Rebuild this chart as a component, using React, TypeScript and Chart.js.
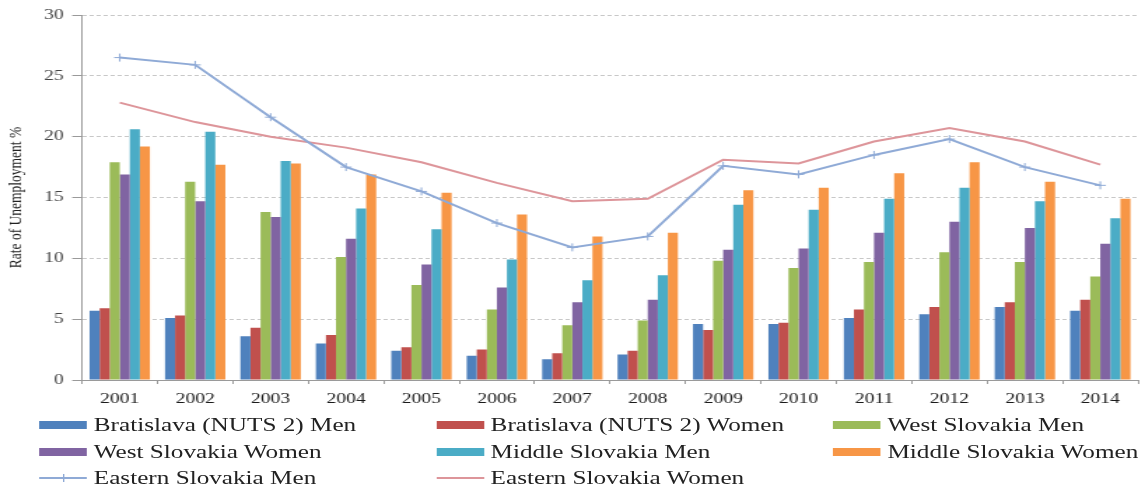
import React, { useEffect, useRef } from 'react';
import { Chart, registerables } from 'chart.js';

Chart.register(...registerables);

const years = ['2001', '2002', '2003', '2004', '2005', '2006', '2007', '2008', '2009', '2010', '2011', '2012', '2013', '2014'];
const bratislavaMen = [5.7, 5.1, 3.6, 3.0, 2.4, 2.0, 1.7, 2.1, 4.6, 4.6, 5.1, 5.4, 6.0, 5.7];
const bratislavaWomen = [5.9, 5.3, 4.3, 3.7, 2.7, 2.5, 2.2, 2.4, 4.1, 4.7, 5.8, 6.0, 6.4, 6.6];
const westMen = [17.9, 16.3, 13.8, 10.1, 7.8, 5.8, 4.5, 4.9, 9.8, 9.2, 9.7, 10.5, 9.7, 8.5];
const westWomen = [16.9, 14.7, 13.4, 11.6, 9.5, 7.6, 6.4, 6.6, 10.7, 10.8, 12.1, 13.0, 12.5, 11.2];
const middleMen = [20.6, 20.4, 18.0, 14.1, 12.4, 9.9, 8.2, 8.6, 14.4, 14.0, 14.9, 15.8, 14.7, 13.3];
const middleWomen = [19.2, 17.7, 17.8, 16.9, 15.4, 13.6, 11.8, 12.1, 15.6, 15.8, 17.0, 17.9, 16.3, 14.9];
const easternMen = [26.5, 25.9, 21.6, 17.5, 15.5, 12.9, 10.9, 11.8, 17.6, 16.9, 18.5, 19.8, 17.5, 16.0];
const easternWomen = [22.8, 21.2, 20.0, 19.1, 17.9, 16.2, 14.7, 14.9, 18.1, 17.8, 19.6, 20.7, 19.6, 17.7];

const barNames = [
  'Bratislava (NUTS 2) Men',
  'Bratislava (NUTS 2) Women',
  'West Slovakia Men',
  'West Slovakia Women',
  'Middle Slovakia Men',
  'Middle Slovakia Women',
];
const barSeries = [bratislavaMen, bratislavaWomen, westMen, westWomen, middleMen, middleWomen];
const barColors = ['#4F81BD', '#C0504D', '#9BBB59', '#8064A2', '#4BACC6', '#F79646'];
const lineNames = ['Eastern Slovakia Men', 'Eastern Slovakia Women'];
const lineSeries = [easternMen, easternWomen];
const lineColors = ['#8FAAD6', '#DD959A'];
const yTicks = [0, 5, 10, 15, 20, 25, 30];

const W = 818;
const H = 491;
const SX = 1145 / W;
const FONT = "'Liberation Serif', 'Times New Roman', serif";

type LegendItem = { name: string; color: string; kind: 'bar' | 'line' | 'lineCross' };
const legendItems: LegendItem[] = [
  ...barNames.map((n, i) => ({ name: n, color: barColors[i], kind: 'bar' as const })),
  { name: lineNames[0], color: lineColors[0], kind: 'lineCross' as const },
  { name: lineNames[1], color: lineColors[1], kind: 'line' as const },
];
const legendColX = [28, 311.5, 595];
const legendRowY = [425, 452, 478];

export default function App() {
  const ref = useRef<HTMLCanvasElement>(null);

  useEffect(() => {
    document.body.style.margin = '0';
    Chart.defaults.font.family = FONT;
    const datasets: any[] = [
      ...lineSeries.map((d, i) => ({
        type: 'line',
        label: lineNames[i],
        data: d,
        borderColor: lineColors[i],
        backgroundColor: lineColors[i],
        borderWidth: 2,
        pointStyle: i === 0 ? 'cross' : 'circle',
        pointRadius: i === 0 ? 4 : 0,
        pointBorderWidth: 1,
        pointBorderColor: lineColors[i],
        tension: 0,
        order: 0,
      })),
      ...barSeries.map((d, i) => ({
        type: 'bar',
        label: barNames[i],
        data: d,
        backgroundColor: barColors[i],
        borderWidth: 0,
        categoryPercentage: 0.8,
        barPercentage: 1.0,
        order: 1,
      })),
    ];
    const chart = new Chart(ref.current!, {
      type: 'bar',
      data: { labels: years, datasets },
      options: {
        animation: false,
        responsive: false,
        devicePixelRatio: 1,
        layout: { padding: { top: 15, right: 0, left: 0, bottom: 0 } },
        plugins: { legend: { display: false }, tooltip: { enabled: false } },
        scales: {
          x: {
            offset: true,
            grid: { display: true, offset: true, drawOnChartArea: false, tickLength: 4, color: '#9a9a9a' },
            border: { color: '#9a9a9a', width: 1 },
            ticks: { font: { size: 14, family: FONT }, color: '#1a1a1a', padding: 7, maxRotation: 0 },
            afterFit: (s: any) => {
              s.height = 111;
            },
          },
          y: {
            min: 0,
            max: 30,
            afterBuildTicks: (s: any) => {
              s.ticks = yTicks.map((v) => ({ value: v }));
            },
            grid: { color: '#c8c8c8', tickLength: 7, tickColor: '#9a9a9a', lineWidth: 1 },
            border: { color: '#9a9a9a', width: 1, dash: [3, 2] },
            ticks: { font: { size: 14, family: FONT }, color: '#444', padding: 6 },
            title: {
              display: true,
              text: 'Rate of Unemployment %',
              font: { size: 13.5, family: FONT },
              color: '#222',
              padding: { top: 3, bottom: 0 },
            },
            afterFit: (s: any) => {
              s.width = 58.6;
            },
          },
        },
      },
    });
    return () => chart.destroy();
  }, []);

  return (
    <div style={{ position: 'absolute', left: 0, top: 0, width: 1145, height: 491, overflow: 'hidden', background: '#fff' }}>
      <div style={{ position: 'relative', width: W, height: H, transform: `scaleX(${SX})`, transformOrigin: '0 0' }}>
        <canvas ref={ref} width={W} height={H} style={{ width: W, height: H, display: 'block' }} />
        {legendItems.map((it, i) => {
          const col = i % 3;
          const row = Math.floor(i / 3);
          const x = legendColX[col];
          const y = legendRowY[row];
          return (
            <div key={it.name} style={{ position: 'absolute', left: x, top: y - 12, height: 24, display: 'flex', alignItems: 'center', whiteSpace: 'nowrap' }}>
              <div style={{ position: 'relative', width: 34, height: 24, marginRight: 5 }}>
                {it.kind === 'bar' ? (
                  <div style={{ position: 'absolute', left: 0, top: 8, width: 34, height: 8, background: it.color }} />
                ) : (
                  <div style={{ position: 'absolute', left: 0, top: 11, width: 34, height: 2, background: it.color }} />
                )}
                {it.kind === 'lineCross' && (
                  <div style={{ position: 'absolute', left: 16.5, top: 8, width: 1, height: 8, background: it.color }} />
                )}
              </div>
              <span style={{ fontFamily: FONT, fontSize: 18, color: '#222', lineHeight: '24px' }}>{it.name}</span>
            </div>
          );
        })}
      </div>
    </div>
  );
}
